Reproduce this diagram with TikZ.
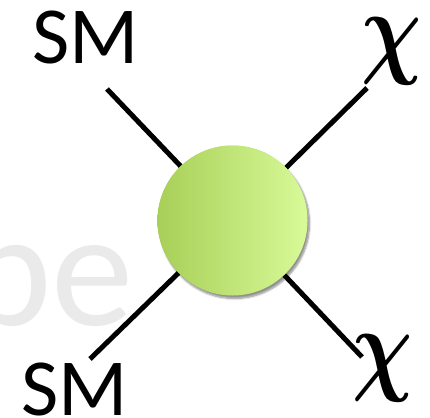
\documentclass[tikz,border=0pt]{standalone}
\usepackage{fix-cm}
\usepackage{fontspec}
\setmainfont{Carlito}
\usepackage{tikz}
\usetikzlibrary{shadows.blur}
\definecolor{blobleft}{RGB}{168, 207, 88}
\definecolor{blobright}{RGB}{216, 250, 152}
\definecolor{ghost}{RGB}{234, 234, 234}

\begin{document}
\begin{tikzpicture}[x=1pt, y=-1pt,
  lbl/.style={font=\fontsize{81}{81}\selectfont, inner sep=0pt},
  chi/.style={font={\fontsize{105}{105}\selectfont\boldmath}, inner sep=0pt},
  leg/.style={line width=5pt, line cap=butt},
  blob/.style={circle, minimum size=150pt, inner sep=0pt, left color=blobleft, right color=blobright,
    blur shadow={shadow xshift=2pt, shadow yshift=-3pt, shadow blur steps=6, shadow opacity=25}}]
\useasboundingbox (0,0) rectangle (430,417);
% faint text behind
\node[font=\fontsize{165}{165}\selectfont, text=ghost, inner sep=0pt, anchor=base east] (bg) at (134,325) {pe};
% vertex
\node[blob] (V) at (232.5,220.5) {};
% outer ends
\coordinate (tl) at (107,89);
\coordinate (tr) at (367,88);
\coordinate (bl) at (90,359);
\coordinate (br) at (362,357);
\foreach \p in {tl,tr,bl,br} {\draw[leg] (\p) -- (V);}
\node[blob] at (V) {};
% labels
\node[lbl, anchor=base] (smt) at (86,64) {SM};
\node[lbl, anchor=base] (smb) at (75,415) {SM};
\node[chi] (cht) at (392,51.5) {\scalebox{0.8}[1]{$\chi$}};
\node[chi] (chb) at (383,368.5) {\scalebox{0.8}[1]{$\chi$}};
\end{tikzpicture}
\end{document}
